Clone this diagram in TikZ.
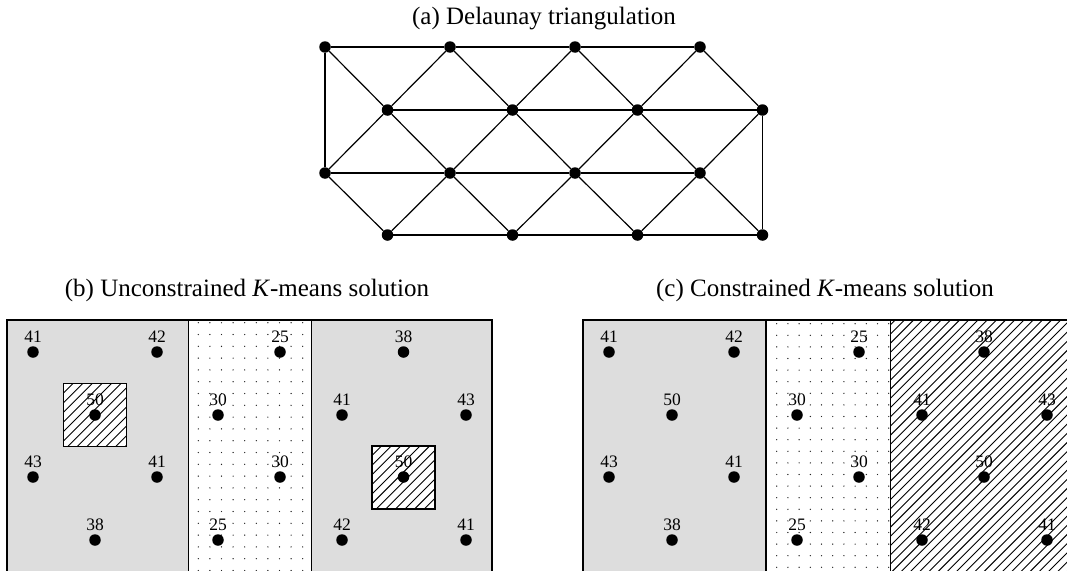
\documentclass[tikz,border=0pt]{standalone}
\usepackage{fontspec}
\setmainfont{Liberation Serif}
\definecolor{panelgray}{HTML}{DDDDDD}
\tikzset{
  vtx/.style={circle,fill=black,inner sep=0pt,minimum size=11.5pt},
  tri/.style={line width=1.2pt},
  kpt/.style={circle,fill=black,inner sep=0pt,minimum size=11.5pt,
    label={[lbl,label distance=3pt]above:#1}},
  lbl/.style={font=\fontsize{17.5}{19}\selectfont,inner sep=0pt},
  title/.style={font=\fontsize{25}{30}\selectfont,inner sep=0pt},
  frame/.style={line width=1.5pt},
  hline/.style={line width=0.9pt,black},
  pdot/.style={fill=black!85},
}
\begin{document}
\begin{tikzpicture}[x=1pt,y=-1pt]
\useasboundingbox (0,0) rectangle (1067,570);
\fill[white] (0,0) rectangle (1067,570);

% ---------- (a) Delaunay triangulation ----------
\node[title] (ta) at (544,18.5) {(a) Delaunay triangulation};
\foreach \i/\x in {1/325,2/450,3/575,4/700} {
  \node[vtx] (p\i) at (\x,47) {};
  \node[vtx] (r\i) at (\x,173) {};
}
\foreach \i/\x in {1/387.5,2/512.5,3/637.5,4/762.5} {
  \node[vtx] (q\i) at (\x,110) {};
  \node[vtx] (s\i) at (\x,235) {};
}
\foreach \i/\j in {1/2,2/3,3/4} {
  \draw[tri] (p\i) -- (p\j);
  \draw[tri] (q\i) -- (q\j);
  \draw[tri] (r\i) -- (r\j);
  \draw[tri] (s\i) -- (s\j);
  \draw[tri] (p\j) -- (q\i);
  \draw[tri] (r\j) -- (q\i);
  \draw[tri] (r\j) -- (s\i);
}
\foreach \i in {1,2,3,4} {
  \draw[tri] (p\i) -- (q\i);
  \draw[tri] (q\i) -- (r\i);
  \draw[tri] (r\i) -- (s\i);
}
\draw[tri] (p1) -- (r1);
\draw[tri] (q4) -- (s4);

% ---------- (b) Unconstrained K-means ----------
\node[title] (tb) at (247,290) {(b) Unconstrained \textit{K}-means solution};
\fill[panelgray] (7,320) rectangle (188.3,580);
\fill[panelgray] (311.7,320) rectangle (492,580);
\begin{scope}
  \clip (188.3,320) rectangle (311.7,580);
  \foreach \i in {0,...,10} \foreach \j in {0,...,22}
    \fill[pdot] ({198.3+11.6*\i},{322.7+11.8*\j}) circle (0.7);
\end{scope}
\draw[frame] (7,580) -- (7,320) -- (492,320) -- (492,580);
\draw[frame] (188.3,320) -- (188.3,580);
\draw[frame] (311.7,320) -- (311.7,580);
% hatched squares
\fill[white] (63.5,383.5) rectangle (126.5,446.5);
\begin{scope}
  \clip (63.5,383.5) rectangle (126.5,446.5);
  \foreach \k in {0,...,14} \draw[hline] ({0.5+9.6*\k},446.5) -- ++(63,-63);
\end{scope}
\draw[frame] (63.5,383.5) rectangle (126.5,446.5);
\fill[white] (372,446) rectangle (435,509);
\begin{scope}
  \clip (372,446) rectangle (435,509);
  \foreach \k in {0,...,14} \draw[hline] ({309+9.6*\k},509) -- ++(63,-63);
\end{scope}
\draw[frame] (372,446) rectangle (435,509);
\foreach \n/\x/\y/\v in {
  1/33/352/41, 2/157/352/42, 3/95/415/50, 4/33/477/43, 5/157/477/41, 6/95/540/38,
  7/280/352/25, 8/218/415/30, 9/280/477/30, 10/218/540/25,
  11/403.5/352/38, 12/342/415/41, 13/466/415/43, 14/403.5/477/50, 15/342/540/42, 16/466/540/41} {
  \node[kpt=\v] (b\n) at (\x,\y) {};
}

% ---------- (c) Constrained K-means ----------
\node[title] (tc) at (825,290) {(c) Constrained \textit{K}-means solution};
\fill[panelgray] (583,320) rectangle (766,580);
\begin{scope}
  \clip (766,320) rectangle (890.7,580);
  \foreach \i in {0,...,10} \foreach \j in {0,...,22}
    \fill[pdot] ({776.7+11.2*\i},{323.7+11.6*\j}) circle (0.7);
\end{scope}
\begin{scope}
  \clip (890.7,320) rectangle (1069,580);
  \foreach \k in {0,...,48} \draw[hline] ({626+9.2*\k},580) -- ++(270,-270);
\end{scope}
\draw[frame] (583,580) -- (583,320) -- (1069,320) -- (1069,580);
\draw[frame] (766,320) -- (766,580);
\draw[frame] (890.7,320) -- (890.7,580);
\foreach \n/\x/\y/\v in {
  1/609/352/41, 2/734/352/42, 3/672/415/50, 4/609/477/43, 5/734/477/41, 6/672/540/38,
  7/859/352/25, 8/797/415/30, 9/859/477/30, 10/797/540/25,
  11/984/352/38, 12/922/415/41, 13/1047/415/43, 14/984/477/50, 15/922/540/42, 16/1047/540/41} {
  \node[kpt=\v] (c\n) at (\x,\y) {};
}
\end{tikzpicture}
\end{document}
